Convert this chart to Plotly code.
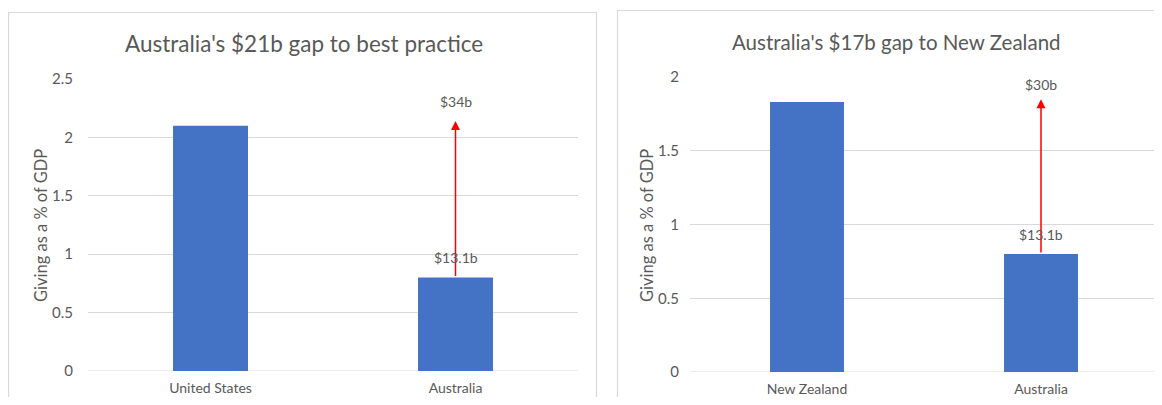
import plotly.graph_objects as go

# ---- data ----
left_title = "Australia's $21b gap to best practice"
left_categories = ["United States", "Australia"]
left_values = [2.1, 0.8]
left_arrow_top = 2.14
left_labels = ["$13.1b", "$34b"]
left_label_values = [0.97, 2.31]

right_title = "Australia's $17b gap to New Zealand"
right_categories = ["New Zealand", "Australia"]
right_values = [1.83, 0.8]
right_arrow_top = 1.85
right_labels = ["$13.1b", "$30b"]
right_label_values = [0.93, 1.95]

y_title = "Giving as a % of GDP"
left_ticks = [0, 0.5, 1, 1.5, 2, 2.5]
right_ticks = [0, 0.5, 1, 1.5, 2]

# ---- style ----
# the page body has an 8px margin: size the figure so the page fits the window
OFF = 8
W, H = 1162 - 2 * OFF, 405 - 2 * OFF
FONT = "Lato"
TXT = "#595959"
GRID = "#d9d9d9"
BAR = "#4472C4"

def px_x(v):
    return min(1.0, max(0.0, (v - OFF) / W))

def px_y(v):
    return min(1.0, max(0.0, 1 - (v - OFF) / H))

# right plot extends slightly past the window edge: shorten the range to keep scale
r_start, r_end_ref = 690, 1158
r_end = min(r_end_ref, OFF + W)
r_span = 2 * (r_end - r_start) / (r_end_ref - r_start)

fig = go.Figure()
fig.add_trace(go.Bar(x=left_categories, y=left_values, marker=dict(color=BAR, line=dict(width=0)),
                     width=0.306, xaxis="x", yaxis="y", showlegend=False, hoverinfo="skip"))
fig.add_trace(go.Bar(x=right_categories, y=right_values, marker=dict(color=BAR, line=dict(width=0)),
                     width=0.316, xaxis="x2", yaxis="y2", showlegend=False, hoverinfo="skip"))

axis_common = dict(showline=False, zeroline=False, ticks="", fixedrange=True, automargin=False)
fig.update_layout(
    width=W, height=H,
    margin=dict(l=0, r=0, t=0, b=0, pad=0, autoexpand=False),
    paper_bgcolor="white", plot_bgcolor="white",
    font=dict(family=FONT, color=TXT, size=14),
    xaxis=dict(domain=[px_x(88), px_x(578)], anchor="y", type="category", range=[-0.5, 1.5],
               showgrid=False, ticklabelstandoff=7, tickfont=dict(size=14, color=TXT), **axis_common),
    yaxis=dict(domain=[px_y(371), px_y(79)], anchor="x", range=[0, 2.5], tickvals=left_ticks,
               ticktext=[f"{t:g}" for t in left_ticks],
               showgrid=True, gridcolor=GRID, gridwidth=1, ticklabelstandoff=14,
               tickfont=dict(size=15, color=TXT), **axis_common),
    xaxis2=dict(domain=[px_x(r_start), px_x(r_end)], anchor="y2", type="category",
                range=[-0.5, -0.5 + r_span],
                showgrid=False, ticklabelstandoff=7, tickfont=dict(size=14, color=TXT), **axis_common),
    yaxis2=dict(domain=[px_y(372), px_y(77)], anchor="x2", range=[0, 2], tickvals=right_ticks,
                ticktext=[f"{t:g}" for t in right_ticks],
                showgrid=True, gridcolor=GRID, gridwidth=1, ticklabelstandoff=10,
                tickfont=dict(size=15, color=TXT), **axis_common),
)

shapes = [
    dict(type="rect", xref="paper", yref="paper", x0=0.0005, x1=(596.5 - OFF) / W,
         y0=-0.2, y1=1 - (12.5 - OFF) / H, line=dict(color=GRID, width=1.2), fillcolor="rgba(0,0,0,0)", layer="below"),
    dict(type="rect", xref="paper", yref="paper", x0=(617.5 - OFF) / W, x1=1.2,
         y0=-0.2, y1=1 - (10.5 - OFF) / H, line=dict(color=GRID, width=1.2), fillcolor="rgba(0,0,0,0)", layer="below"),
    dict(type="line", xref="x domain", yref="y", x0=0, x1=1, y0=0, y1=0, line=dict(color=GRID, width=1.2), layer="below"),
    dict(type="line", xref="x2 domain", yref="y2", x0=0, x1=1, y0=0, y1=0, line=dict(color=GRID, width=1.2), layer="below"),
]

annotations = [
    dict(text=left_title, xref="paper", yref="paper", x=px_x(304), y=px_y(43), showarrow=False,
         font=dict(size=22.5, color=TXT, family=FONT), xanchor="center", yanchor="middle"),
    dict(text=right_title, xref="paper", yref="paper", x=px_x(896), y=px_y(42), showarrow=False,
         font=dict(size=20.5, color=TXT, family=FONT), xanchor="center", yanchor="middle"),
    dict(text=y_title, xref="paper", yref="paper", x=px_x(41), y=px_y(226), showarrow=False, textangle=-90,
         font=dict(size=16.5, color=TXT, family=FONT), xanchor="center", yanchor="middle"),
    dict(text=y_title, xref="paper", yref="paper", x=px_x(647), y=px_y(226), showarrow=False, textangle=-90,
         font=dict(size=16.5, color=TXT, family=FONT), xanchor="center", yanchor="middle"),
    dict(x=left_categories[1], y=left_arrow_top, xref="x", yref="y", axref="pixel", ax=0,
         ayref="y", ay=left_values[1], showarrow=True, arrowhead=2, arrowsize=1.2, arrowwidth=1.5,
         arrowcolor="red", text=""),
    dict(x=right_categories[1], y=right_arrow_top, xref="x2", yref="y2", axref="pixel", ax=0,
         ayref="y2", ay=right_values[1], showarrow=True, arrowhead=2, arrowsize=1.2, arrowwidth=1.5,
         arrowcolor="red", text=""),
]
for lab, val in zip(left_labels, left_label_values):
    annotations.append(dict(text=lab, x=left_categories[1], y=val, xref="x", yref="y", showarrow=False,
                            font=dict(size=14, color=TXT, family=FONT), xanchor="center", yanchor="middle"))
for lab, val in zip(right_labels, right_label_values):
    annotations.append(dict(text=lab, x=right_categories[1], y=val, xref="x2", yref="y2", showarrow=False,
                            font=dict(size=14, color=TXT, family=FONT), xanchor="center", yanchor="middle"))

fig.update_layout(shapes=shapes, annotations=annotations)
fig.write_html("out.html")
